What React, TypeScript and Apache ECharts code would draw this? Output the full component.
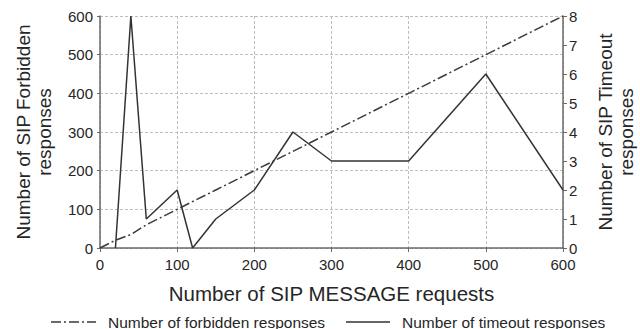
import React, { useEffect, useRef } from "react";
import * as echarts from "echarts";

const requests = [0, 20, 40, 60, 100, 150, 200, 250, 300, 400, 500, 600];
const forbidden = [0, 20, 35, 60, 100, 150, 200, 250, 300, 400, 500, 600];
const timeoutX = [20, 40, 60, 100, 120, 150, 200, 250, 300, 400, 500, 600];
const timeoutY = [0, 8, 1, 2, 0, 1, 2, 4, 3, 3, 6, 2];
const legendNames = ["Number of forbidden responses", "Number of timeout responses"];

const FONT = "Liberation Sans, Arial, sans-serif";
const TXT = "#262626";
const DASHDOT = [10, 3, 2, 3];

export default function App() {
  const ref = useRef<HTMLDivElement>(null);
  useEffect(() => {
    const chart = echarts.init(ref.current!, null, { renderer: "svg" });
    chart.setOption({
      animation: false,
      textStyle: { fontFamily: FONT, color: TXT },
      grid: { left: 100, right: 77, top: 16, bottom: 81, containLabel: false, outerBoundsMode: "none" },
      graphic: [
        { type: "line", shape: { x1: 51, y1: 322, x2: 96, y2: 322 }, style: { stroke: "#3a3a3a", lineWidth: 1.5, lineDash: DASHDOT } },
        { type: "text", x: 108, y: 322, style: { text: legendNames[0], fontFamily: FONT, fontSize: 15.5, fill: TXT, verticalAlign: "middle" } },
        { type: "line", shape: { x1: 346, y1: 322, x2: 390, y2: 322 }, style: { stroke: "#333333", lineWidth: 1.5 } },
        { type: "text", x: 402, y: 322, style: { text: legendNames[1], fontFamily: FONT, fontSize: 15.5, fill: TXT, verticalAlign: "middle" } },
      ],
      xAxis: {
        type: "value",
        min: 0,
        max: 600,
        interval: 100,
        name: "Number of SIP MESSAGE requests",
        nameLocation: "middle",
        nameGap: 35,
        nameTextStyle: { fontFamily: FONT, fontSize: 20.5, color: TXT },
        axisLine: { lineStyle: { color: "#6a6a6a", width: 1.5 } },
        axisTick: { show: true, length: 4, lineStyle: { color: "#6a6a6a" } },
        axisLabel: { fontSize: 15, color: TXT, margin: 9, fontFamily: FONT },
        splitLine: { show: true, lineStyle: { color: "#bdbdbd", type: [3, 2] } },
      },
      yAxis: [
        {
          type: "value",
          min: 0,
          max: 600,
          interval: 100,
          name: "Number of SIP Forbidden\nresponses",
          nameLocation: "middle",
          nameRotate: 90,
          nameGap: 45,
          nameTextStyle: { fontFamily: FONT, fontSize: 19, color: TXT, lineHeight: 21 },
          axisLine: { show: true, lineStyle: { color: "#6a6a6a", width: 1.5 } },
          axisTick: { show: true, length: 3, lineStyle: { color: "#6a6a6a" } },
          axisLabel: { fontSize: 15, color: TXT, margin: 7, fontFamily: FONT },
          splitLine: { show: true, lineStyle: { color: "#bdbdbd", type: [3, 2] } },
        },
        {
          type: "value",
          min: 0,
          max: 8,
          interval: 1,
          position: "right",
          name: "Number of SIP Timeout\nresponses",
          nameLocation: "middle",
          nameRotate: 90,
          nameGap: 32,
          nameTextStyle: { fontFamily: FONT, fontSize: 19, color: TXT, lineHeight: 21 },
          axisLine: { show: true, lineStyle: { color: "#6a6a6a", width: 1.5 } },
          axisTick: { show: true, length: 4, lineStyle: { color: "#6a6a6a" } },
          axisLabel: { fontSize: 15, color: TXT, margin: 6, fontFamily: FONT },
          splitLine: { show: false },
        },
      ],
      series: [
        {
          name: legendNames[0],
          type: "line",
          yAxisIndex: 0,
          showSymbol: false,
          symbol: "none",
          data: requests.map((x, i) => [x, forbidden[i]]),
          lineStyle: { color: "#3a3a3a", width: 1.5, type: DASHDOT },
        },
        {
          name: legendNames[1],
          type: "line",
          yAxisIndex: 1,
          showSymbol: false,
          symbol: "none",
          data: timeoutX.map((x, i) => [x, timeoutY[i]]),
          lineStyle: { color: "#333333", width: 1.5 },
        },
      ],
    });
    return () => chart.dispose();
  }, []);
  return <div ref={ref} style={{ width: 640, height: 329, position: "absolute", left: 0, top: 0 }} />;
}
